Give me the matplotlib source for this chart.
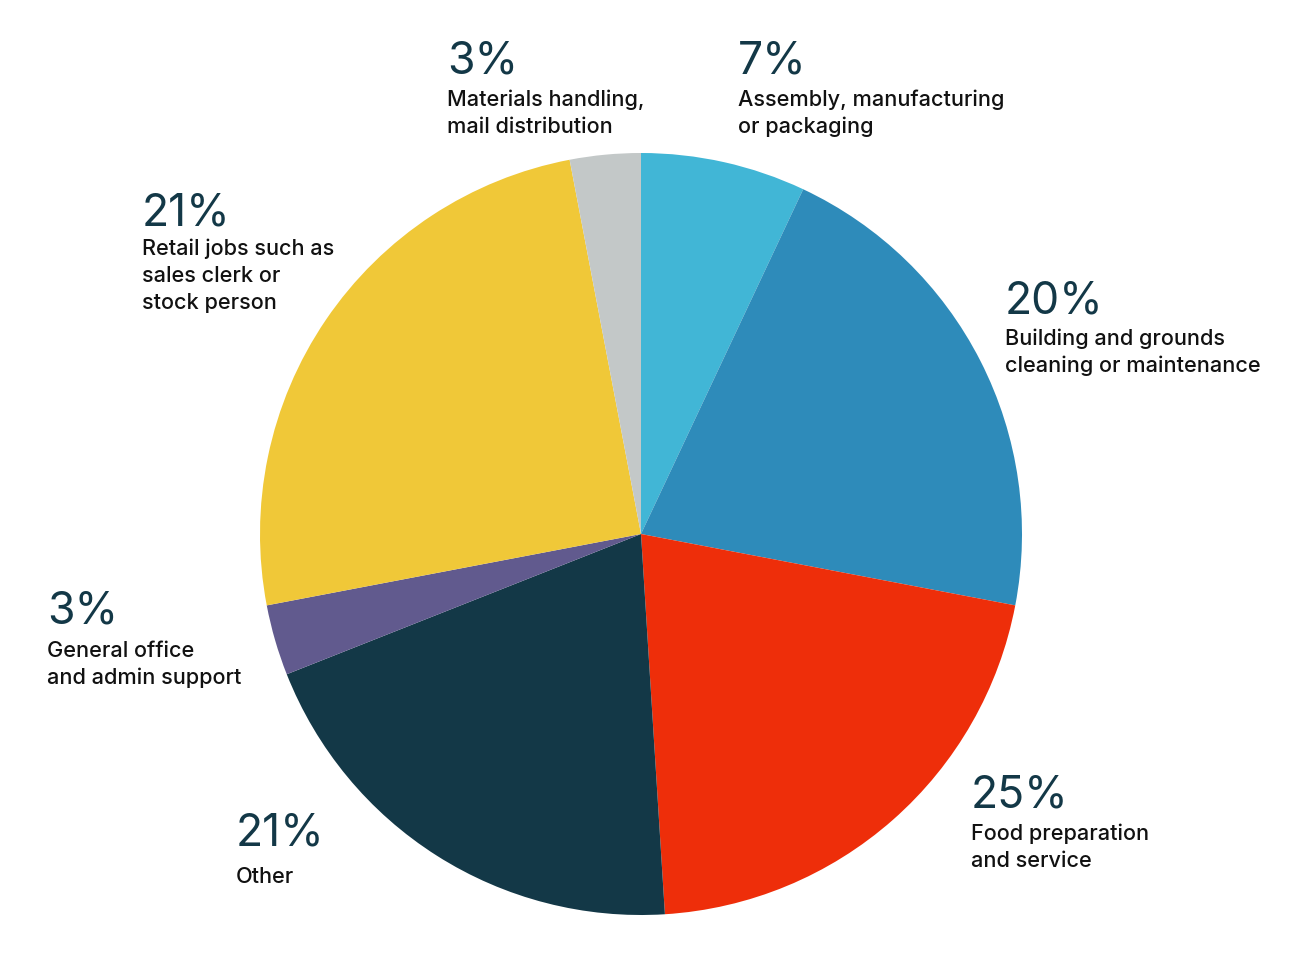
import matplotlib
matplotlib.use("Agg")
import matplotlib.pyplot as plt

# Wedge sizes as drawn (clockwise from 12 o'clock)
categories = ["Assembly, manufacturing\nor packaging",
              "Building and grounds\ncleaning or maintenance",
              "Food preparation\nand service",
              "Other",
              "General office\nand admin support",
              "Retail jobs such as\nsales clerk or\nstock person",
              "Materials handling,\nmail distribution"]
wedge_sizes = [7, 21, 21, 20, 3, 25, 3]
label_pcts = ["7%", "20%", "25%", "21%", "3%", "21%", "3%"]
colors = ["#41B6D6", "#2E8BBA", "#EE2E0A", "#133847", "#615A8E", "#F0C838", "#C3C8C8"]

# label anchor positions in pixels (left x, baseline y of the percentage, gap to description)
label_pos = [(738, 73, 33), (1005, 313, 32), (971, 807, 33), (236, 845, 38),
             (47, 624, 33), (142, 225, 30), (447, 73, 33)]

W, H = 1310, 964
fig = plt.figure(figsize=(W / 100, H / 100), dpi=100)
ax = fig.add_axes([0, 0, 1, 1])

ax.pie(wedge_sizes, colors=colors, startangle=90, counterclock=False,
       center=(641, H - 534), radius=381, frame=True,
       wedgeprops=dict(linewidth=0))
ax.set_xlim(0, W)
ax.set_ylim(0, H)
ax.set_aspect("equal")
ax.axis("off")

for cat, pct, (x, y, gap) in zip(categories, label_pcts, label_pos):
    ax.text(x, H - y, pct, fontsize=32, color="#133847", family="Inter",
            fontweight="normal", ha="left", va="baseline")
    for i, line in enumerate(cat.split("\n")):
        ax.text(x, H - (y + gap + 27 * i), line, fontsize=15.6, color="#111111",
                family="Inter", fontweight="medium", ha="left", va="baseline")

fig.savefig("out.png", dpi=100, facecolor="white")
